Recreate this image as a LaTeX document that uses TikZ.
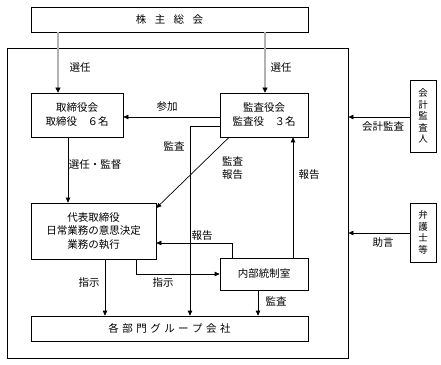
\documentclass[tikz,border=0pt]{standalone}
\usepackage{fontspec}
\setmainfont{Noto Sans CJK JP}
\usetikzlibrary{arrows.meta,shadows,calc}
\begin{document}
\begin{tikzpicture}[x=1pt,y=-1pt,
  font=\fontsize{10.5}{14}\selectfont,
  box/.style={draw,line width=0.7pt,fill=white,inner sep=0pt,align=center,
    drop shadow={shadow xshift=0.8pt,shadow yshift=-0.8pt,fill=black,opacity=1}},
  arr/.style={line width=0.7pt,-{Triangle[length=5pt,width=4.5pt]}},
  dbl/.style={line width=0.6pt,double=gray!60,double distance=1.4pt,
    -{Triangle[length=5pt,width=5pt]}},
  lbl/.style={inner sep=0pt,align=center,font=\fontsize{10.5}{13}\selectfont}]
\useasboundingbox (0,0) rectangle (441,364);
% outer frame
\node[draw,line width=0.8pt,minimum width=341pt,minimum height=310pt,inner sep=0pt] (outer) at (177.5,203) {};
% boxes
\node[box,minimum width=277pt,minimum height=25pt] (sh) at (169.5,19.5) {株\hspace{0.8em}主\hspace{0.8em}総\hspace{0.8em}会};
\node[box,minimum width=92pt,minimum height=44pt] (tr) at (77,115) {取締役会\\取締役　６名};
\node[box,minimum width=88pt,minimum height=44pt] (ka) at (264,115) {監査役会\\監査役　３名};
\node[box,minimum width=26pt,minimum height=72pt,font=\fontsize{9.5}{11.5}\selectfont] (kk) at (423,116) {会\\計\\監\\査\\人};
\node[box,minimum width=26pt,minimum height=59pt,font=\fontsize{9.5}{11.5}\selectfont] (bg) at (423,232.5) {弁\\護\\士\\等};
\node[box,minimum width=125pt,minimum height=56pt,font=\fontsize{10.5}{13.5}\selectfont] (dh) at (93.5,231) {代表取締役\\日常業務の意思決定\\業務の執行};
\node[box,minimum width=88pt,minimum height=32pt] (nb) at (264,274) {内部統制室};
\node[box,minimum width=277pt,minimum height=25pt] (kb) at (169.5,328.5) {各\hspace{0.33em}部\hspace{0.33em}門\hspace{0.33em}グ\hspace{0.33em}ル\hspace{0.33em}ー\hspace{0.33em}プ\hspace{0.33em}会\hspace{0.33em}社};
% helper coordinates
\coordinate (x58) at (58,0);
\coordinate (x265) at (265,0);
\coordinate (x68) at (68,0);
\coordinate (x190) at (190,0);
\coordinate (x229) at (229,0);
\coordinate (x293) at (293,0);
\coordinate (x232) at (232,0);
\coordinate (x136) at (136,0);
\coordinate (x105) at (105,0);
\coordinate (x258) at (258,0);
\coordinate (y117) at (0,117);
\coordinate (y126) at (0,126);
\coordinate (y208) at (0,208);
\coordinate (y243) at (0,243);
\coordinate (y274) at (0,274);
\coordinate (y233) at (0,233);
% connectors
\draw[dbl] (sh.south -| x58) -- (tr.north -| x58);
\draw[dbl] (sh.south -| x265) -- (ka.north -| x265);
\draw[arr] (ka.west |- y117) -- (tr.east |- y117);
\draw[arr] (kk.west |- y117) -- (outer.east |- y117);
\draw[arr] (bg.west |- y233) -- (outer.east |- y233);
\draw[arr] (tr.south -| x68) -- (dh.north -| x68);
\draw[arr] (ka.south -| x229) -- (dh.east |- y208);
\draw[arr] (ka.west |- y126) -| (kb.north -| x190);
\draw[arr] (nb.north -| x293) -- (ka.south -| x293);
\draw[arr] (nb.north -| x232) |- (dh.east |- y243);
\draw[arr] (dh.south -| x136) |- (nb.west |- y274);
\draw[arr] (dh.south -| x105) -- (kb.north -| x105);
\draw[arr] (nb.south -| x258) -- (kb.north -| x258);
% labels
\node[lbl] (l1) at (80,68) {選任};
\node[lbl] (l2) at (281,68) {選任};
\node[lbl] (l3) at (167,107) {参加};
\node[lbl] (l4) at (383,127) {会計監査};
\node[lbl] (l5) at (383,243) {助言};
\node[lbl] (l6) at (95,165) {選任・監督};
\node[lbl] (l7) at (174,146) {監査};
\node[lbl] (l8) at (232.5,168) {監査\\報告};
\node[lbl] (l9) at (309,175) {報告};
\node[lbl] (l10) at (202,236) {報告};
\node[lbl] (l11) at (89,283) {指示};
\node[lbl] (l12) at (163,283) {指示};
\node[lbl] (l13) at (276,301) {監査};
\end{tikzpicture}
\end{document}
